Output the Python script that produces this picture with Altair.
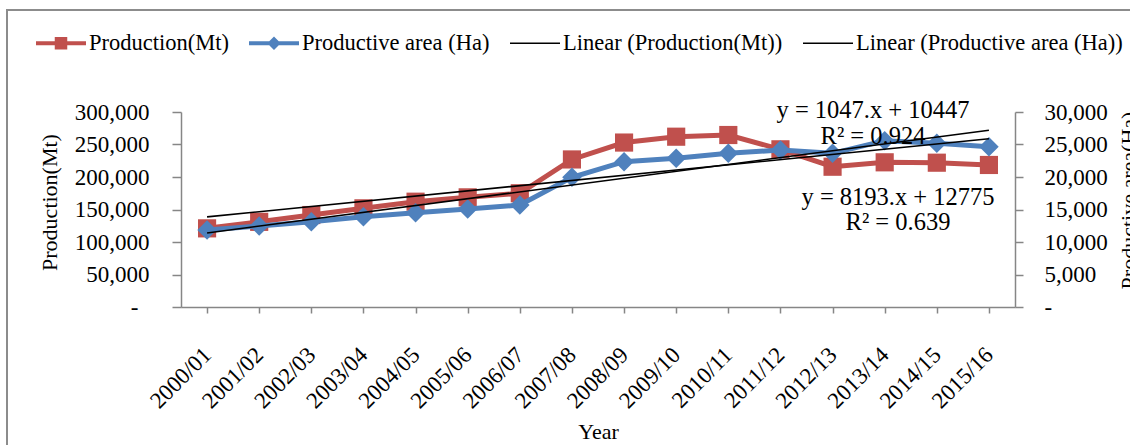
import json

import altair as alt
import pandas as pd

# ---- data -------------------------------------------------------------
years = ["2000/01", "2001/02", "2002/03", "2003/04", "2004/05", "2005/06",
         "2006/07", "2007/08", "2008/09", "2009/10", "2010/11", "2011/12",
         "2012/13", "2013/14", "2014/15", "2015/16"]
production = [121000, 131000, 141500, 151800, 162000, 168700, 175000, 227000,
              253000, 262000, 264600, 242600, 215800, 222600, 222000, 218500]
area = [11850, 12460, 13130, 13900, 14510, 15080, 15690, 19950,
        22360, 22870, 23640, 24150, 23640, 25590, 25180, 24660]

series_names = ["Production(Mt)", "Productive area (Ha)",
                "Linear (Production(Mt))", "Linear (Productive area (Ha))"]
area_fit_text = ["y = 1047.x + 10447", "R² = 0.924"]
prod_fit_text = ["y = 8193.x + 12775", "R² = 0.639"]

prod_ticks = [0, 50000, 100000, 150000, 200000, 250000, 300000]
area_ticks = [0, 5000, 10000, 15000, 20000, 25000, 30000]

# ---- styling ----------------------------------------------------------
RED = "#C0504D"
BLUE = "#4F81BD"
GRAY = "#868686"
FONT = "Liberation Serif"
W, H = 834, 195

df = pd.DataFrame({"idx": list(range(1, len(years) + 1)), "year": years,
                   "production": production, "area": area})
base = alt.Chart(df)

year_expr = json.dumps(years) + "[datum.value - 1]"
x_enc = alt.X(
    "idx:Q",
    title="Year",
    scale=alt.Scale(domain=[0.5, len(years) + 0.5], nice=False, zero=False),
    axis=alt.Axis(
        values=list(range(1, len(years) + 1)), labelExpr=year_expr,
        labelAngle=-45, labelAlign="right", labelBaseline="middle",
        labelPadding=38, labelOverlap=False, labelFont=FONT,
        labelFontSize=23, labelColor="black",
        tickSize=6, tickColor=GRAY, tickWidth=1.5,
        domainColor=GRAY, domainWidth=1.5, grid=False,
        titleFont=FONT, titleFontSize=22, titleFontWeight="normal",
        titleColor="black", titleBaseline="alphabetic", titleY=131,
    ),
)

yp_scale = alt.Scale(domain=[0, 300000], nice=False, zero=True)
ya_scale = alt.Scale(domain=[0, 30000], nice=False, zero=True)

left_axis = alt.Axis(
    orient="left", values=prod_ticks,
    labelExpr="datum.value == 0 ? '-' : format(datum.value, ',')",
    labelFont=FONT, labelFontSize=23, labelColor="black",
    labelPadding={"condition": {"test": "datum.value == 0", "value": 34},
                  "value": 23},
    tickSize=9, tickColor=GRAY, tickWidth=1.5,
    domainColor=GRAY, domainWidth=1.5, grid=False,
    titleFont=FONT, titleFontSize=22, titleFontWeight="normal",
    titleColor="black", titleAngle=-90, titleAlign="center",
    titleBaseline="alphabetic", titleX=-125, titleY=90,
)
right_axis = alt.Axis(
    orient="right", values=area_ticks,
    labelExpr="datum.value == 0 ? '-' : format(datum.value, ',')",
    labelFont=FONT, labelFontSize=23, labelColor="black", labelPadding=21,
    tickSize=8, tickColor=GRAY, tickWidth=1.5,
    domainColor=GRAY, domainWidth=1.5, grid=False,
    titleFont=FONT, titleFontSize=22, titleFontWeight="normal",
    titleColor="black", titleAngle=-90, titleAlign="center",
    titleBaseline="alphabetic", titleX=120, titleY=88,
)

# ---- series -----------------------------------------------------------
prod_line = base.mark_line(color=RED, strokeWidth=5).encode(
    x=x_enc, y=alt.Y("production:Q", title="Production(Mt)",
                     scale=yp_scale, axis=left_axis))
prod_pts = base.mark_point(shape="square", filled=True, size=330,
                           color=RED, opacity=1).encode(
    x=x_enc, y=alt.Y("production:Q", scale=yp_scale, axis=None))

area_line = base.mark_line(color=BLUE, strokeWidth=5).encode(
    x=x_enc, y=alt.Y("area:Q", title="Productive area(Ha)",
                     scale=ya_scale, axis=right_axis))
area_pts = base.mark_point(shape="diamond", filled=True, size=380,
                           color=BLUE, opacity=1).encode(
    x=x_enc, y=alt.Y("area:Q", scale=ya_scale, axis=None))

prod_trend = base.transform_regression("idx", "production").mark_line(
    color="black", strokeWidth=1.6).encode(
    x=x_enc, y=alt.Y("production:Q", scale=yp_scale, axis=None))
area_trend = base.transform_regression("idx", "area").mark_line(
    color="black", strokeWidth=1.6).encode(
    x=x_enc, y=alt.Y("area:Q", scale=ya_scale, axis=None))


# ---- trendline equations ----------------------------------------------
def label(text, px, py):
    return alt.Chart(pd.DataFrame({"t": [text]})).mark_text(
        font=FONT, fontSize=24.5, color="black", align="center",
        baseline="middle").encode(x=alt.value(px), y=alt.value(py),
                                  text="t:N")


labels = [
    label(area_fit_text[0], 692, -1),
    label(area_fit_text[1], 692, 25),
    label(prod_fit_text[0], 717, 86),
    label(prod_fit_text[1], 717, 111),
]

# ---- legend -----------------------------------------------------------
line_marker_square = "M-1,-0.08H1V0.08H-1Z M-0.25,-0.25H0.25V0.25H-0.25Z"
line_marker_diamond = "M-1,-0.08H1V0.08H-1Z M0,-0.27L0.27,0L0,0.27L-0.27,0Z"
thin_line = "M-1,-0.03H1V0.03H-1Z"

legend_def = alt.Legend(
    orient="none", legendX=-145, legendY=-94, direction="horizontal",
    columns=4, padding=0, labelFont=FONT, labelFontSize=22.5,
    labelColor="black", labelOffset=3, columnPadding=20, labelLimit=400,
    symbolSize=2500, symbolStrokeWidth=0, symbolOpacity=1,
)
legend_layer = alt.Chart(pd.DataFrame({"series": series_names})).mark_point(
    filled=True, opacity=0).encode(
    color=alt.Color("series:N", title=None, legend=legend_def,
                    scale=alt.Scale(domain=series_names,
                                    range=[RED, BLUE, "black", "black"])),
    shape=alt.Shape("series:N", title=None, legend=legend_def,
                    scale=alt.Scale(domain=series_names,
                                    range=[line_marker_square,
                                           line_marker_diamond,
                                           thin_line, thin_line])),
)

# ---- outer frame ------------------------------------------------------
frame = alt.Chart(pd.DataFrame({"a": [0]})).mark_rect(
    fill="transparent", stroke="#8C8C8C", strokeWidth=2).encode(
    x=alt.value(-174), x2=alt.value(965), y=alt.value(-102),
    y2=alt.value(345))

chart = alt.layer(
    frame, prod_line, prod_pts, area_line, area_pts, prod_trend, area_trend,
    *labels, legend_layer,
).resolve_scale(y="independent").properties(
    width=W, height=H,
    autosize=alt.AutoSizeParams(type="none"),
    padding={"left": 181, "top": 112, "right": 115, "bottom": 138},
    background="white",
).configure_view(stroke=None)

chart.save("out.html", embed_options={"renderer": "svg", "actions": False})
